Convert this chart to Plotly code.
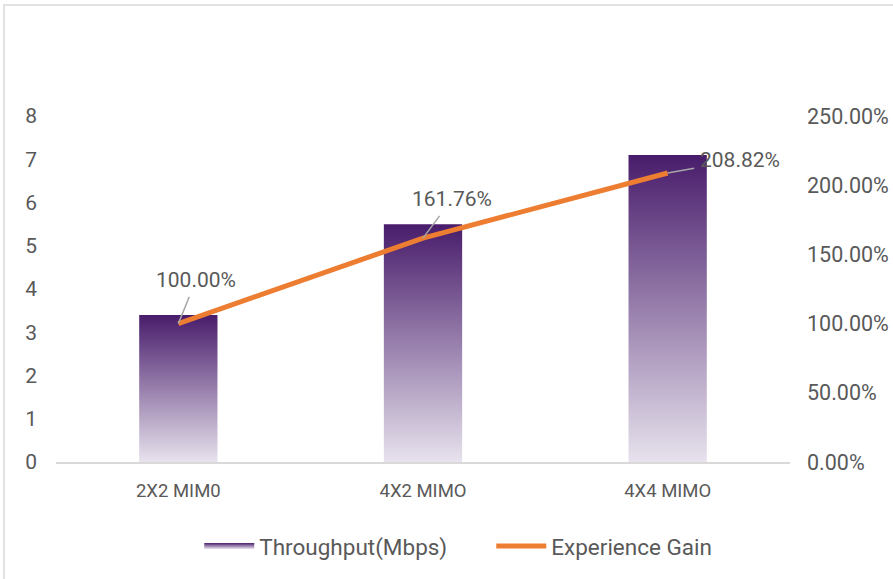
import plotly.graph_objects as go

categories = ["2X2 MIM0", "4X2 MIMO", "4X4 MIMO"]
throughput = [3.4, 5.5, 7.1]
experience_gain = [1.0, 1.6176, 2.0882]

# label offsets (pixels) for the data labels of the gain line
label_dx = [18, 29, 72]
label_dy = [-44, -39, -13]

FONT = "Roboto"
GREY = "#595959"
ORANGE = "#ED7D31"
BAR_DARK = "#481c6b"
BAR_LIGHT = "#e7e2ed"
HALF_W = 0.16

fig = go.Figure()

for i, (cat, val) in enumerate(zip(categories, throughput)):
    fig.add_trace(go.Scatter(
        x=[i - HALF_W, i + HALF_W, i + HALF_W, i - HALF_W, i - HALF_W],
        y=[0, 0, val, val, 0],
        fill="toself",
        mode="none",
        fillgradient=dict(
            type="vertical",
            colorscale=[[0, BAR_LIGHT], [1, BAR_DARK]],
            start=0,
            stop=val,
        ),
        name="Throughput(Mbps)",
        legendgroup="tp",
        showlegend=(i == 0),
        hoverinfo="skip",
    ))

fig.add_trace(go.Scatter(
    x=list(range(len(categories))),
    y=experience_gain,
    yaxis="y2",
    mode="lines",
    line=dict(color=ORANGE, width=5),
    name="Experience Gain",
))

for i, g in enumerate(experience_gain):
    fig.add_annotation(
        x=i, y=g, xref="x", yref="y2",
        text=f"{g * 100:.2f}%",
        showarrow=True, arrowhead=0, arrowwidth=1.5,
        arrowcolor="#a6a6a6",
        ax=label_dx[i], ay=label_dy[i],
        startstandoff=4,
        font=dict(family=FONT, size=21, color=GREY),
    )

# light frame around the chart area (left/top visible)
fig.add_shape(
    type="rect", xref="paper", yref="paper",
    x0=-52 / 734, x1=1.3, y0=-0.6, y1=457 / 346,
    line=dict(color="#d9d9d9", width=1.5),
    fillcolor="rgba(0,0,0,0)",
    layer="below",
)

fig.update_layout(
    width=893, height=579,
    paper_bgcolor="white", plot_bgcolor="white",
    margin=dict(l=56, r=103, t=116, b=116),
    font=dict(family=FONT, size=21, color=GREY),
    xaxis=dict(
        range=[-0.5, 2.5],
        tickvals=list(range(len(categories))),
        ticktext=categories,
        showgrid=False, zeroline=False,
        showline=True, linecolor="#d9d9d9", linewidth=1.5,
        ticks="", ticklabelstandoff=11, automargin=False,
        tickfont=dict(family=FONT, size=18.5, color=GREY),
    ),
    yaxis=dict(
        range=[0, 8], dtick=1,
        showgrid=False, zeroline=False, showline=False,
        ticks="", ticklabelstandoff=18, automargin=False,
        tickfont=dict(family=FONT, size=21, color=GREY),
    ),
    yaxis2=dict(
        range=[0, 2.5], dtick=0.5, tickformat=".2%",
        overlaying="y", side="right",
        showgrid=False, zeroline=False, showline=False,
        ticks="", ticklabelstandoff=16, automargin=False,
        tickfont=dict(family=FONT, size=21.5, color=GREY),
    ),
    legend=dict(
        orientation="h",
        x=0.593, xanchor="center",
        y=-0.24, yanchor="middle",
        itemwidth=50,
        entrywidth=227,
        font=dict(family=FONT, size=22.5, color=GREY),
        traceorder="normal",
    ),
    showlegend=True,
)

fig.write_html(
    "out.html",
    config={"displayModeBar": False},
    post_script="document.body.style.margin='0';",
)
